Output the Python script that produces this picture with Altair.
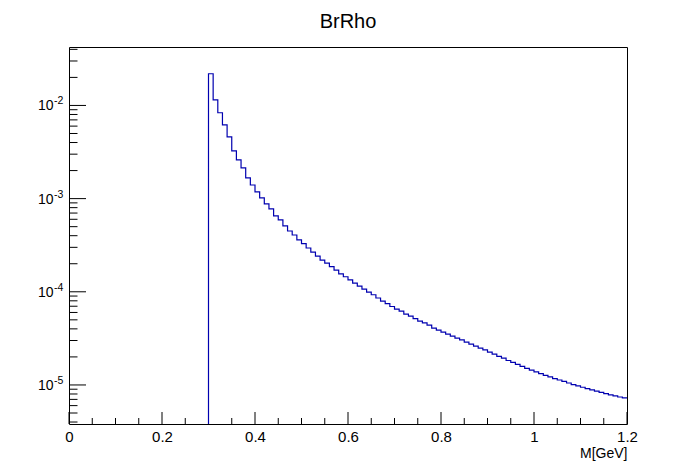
import altair as alt
import pandas as pd

# ---- data ----
bin_low = [0.30, 0.31, 0.32, 0.33, 0.34, 0.35, 0.36, 0.37, 0.38, 0.39,
           0.40, 0.41, 0.42, 0.43, 0.44, 0.45, 0.46, 0.47, 0.48, 0.49,
           0.50, 0.51, 0.52, 0.53, 0.54, 0.55, 0.56, 0.57, 0.58, 0.59,
           0.60, 0.61, 0.62, 0.63, 0.64, 0.65, 0.66, 0.67, 0.68, 0.69,
           0.70, 0.71, 0.72, 0.73, 0.74, 0.75, 0.76, 0.77, 0.78, 0.79,
           0.80, 0.81, 0.82, 0.83, 0.84, 0.85, 0.86, 0.87, 0.88, 0.89,
           0.90, 0.91, 0.92, 0.93, 0.94, 0.95, 0.96, 0.97, 0.98, 0.99,
           1.00, 1.01, 1.02, 1.03, 1.04, 1.05, 1.06, 1.07, 1.08, 1.09,
           1.10, 1.11, 1.12, 1.13, 1.14, 1.15, 1.16, 1.17, 1.18, 1.19]
counts = [2.19e-2, 1.15e-2, 8.35e-3, 6.20e-3, 4.61e-3, 3.26e-3, 2.61e-3, 2.14e-3, 1.67e-3, 1.40e-3,
          1.18e-3, 1.02e-3, 8.77e-4, 7.75e-4, 6.52e-4, 5.90e-4, 5.09e-4, 4.49e-4, 4.07e-4, 3.60e-4,
          3.28e-4, 2.95e-4, 2.67e-4, 2.42e-4, 2.19e-4, 2.03e-4, 1.86e-4, 1.71e-4, 1.56e-4, 1.45e-4,
          1.34e-4, 1.24e-4, 1.15e-4, 1.07e-4, 9.93e-5, 9.29e-5, 8.58e-5, 7.94e-5, 7.48e-5, 6.95e-5,
          6.52e-5, 6.20e-5, 5.76e-5, 5.48e-5, 5.16e-5, 4.84e-5, 4.64e-5, 4.38e-5, 4.07e-5, 3.88e-5,
          3.69e-5, 3.51e-5, 3.34e-5, 3.18e-5, 3.05e-5, 2.88e-5, 2.74e-5, 2.61e-5, 2.48e-5, 2.38e-5,
          2.25e-5, 2.14e-5, 2.03e-5, 1.94e-5, 1.83e-5, 1.75e-5, 1.66e-5, 1.58e-5, 1.51e-5, 1.44e-5,
          1.38e-5, 1.32e-5, 1.27e-5, 1.22e-5, 1.17e-5, 1.13e-5, 1.09e-5, 1.05e-5, 1.01e-5, 9.78e-6,
          9.45e-6, 9.15e-6, 8.86e-6, 8.58e-6, 8.33e-6, 8.08e-6, 7.84e-6, 7.63e-6, 7.43e-6, 7.25e-6]
x_upper = 1.2

x_major = [0.0, 0.2, 0.4, 0.6, 0.8, 1.0, 1.2]
x_minor = [0.05, 0.1, 0.15, 0.25, 0.3, 0.35, 0.45, 0.5, 0.55, 0.65, 0.7, 0.75,
           0.85, 0.9, 0.95, 1.05, 1.1, 1.15]
y_major = [1e-5, 1e-4, 1e-3, 1e-2]
y_exp = ["-5", "-4", "-3", "-2"]
y_minor = [4e-6, 5e-6, 6e-6, 7e-6, 8e-6, 9e-6,
           2e-5, 3e-5, 4e-5, 5e-5, 6e-5, 7e-5, 8e-5, 9e-5,
           2e-4, 3e-4, 4e-4, 5e-4, 6e-4, 7e-4, 8e-4, 9e-4,
           2e-3, 3e-3, 4e-3, 5e-3, 6e-3, 7e-3, 8e-3, 9e-3,
           2e-2, 3e-2, 4e-2]

Y_MIN, Y_MAX = 3.81e-6, 4.24e-2
W, H = 558, 377
FONT = "Liberation Sans"

# step line: start at the bottom of the frame at the first edge
xs = [bin_low[0]] + bin_low + [x_upper]
ys = [Y_MIN] + counts + [counts[-1]]
hist = pd.DataFrame({"x": xs, "y": ys, "i": list(range(len(xs)))})

xscale = alt.Scale(domain=[0, 1.2], nice=False, zero=False)
yscale = alt.Scale(type="log", domain=[Y_MIN, Y_MAX], nice=False)

xaxis = alt.Axis(values=x_major, ticks=False, domain=False, grid=False,
                 labelFontSize=15, labelPadding=5, labelColor="black",
                 labelFont=FONT, labelFlush=False,
                 labelExpr="datum.value == 1 ? '1' : format(datum.value, '.1~f')",
                 title="M[GeV]", titleFont=FONT, titleFontSize=14,
                 titleFontWeight="normal", titleColor="black",
                 titleAnchor="end", titleAlign="right",
                 titleX=W, titleY=33, titleBaseline="alphabetic")

line = alt.Chart(hist).mark_line(
    interpolate="step-after", color="#0000b0", strokeWidth=1.2, clip=True
).encode(
    x=alt.X("x:Q", scale=xscale, axis=xaxis),
    y=alt.Y("y:Q", scale=yscale, axis=None),
    order=alt.Order("i:Q"),
)

xmaj = alt.Chart(pd.DataFrame({"v": x_major})).mark_rule(color="black").encode(
    x=alt.X("v:Q", scale=xscale, axis=xaxis), y=alt.value(H), y2=alt.value(H - 12))
xmin = alt.Chart(pd.DataFrame({"v": x_minor})).mark_rule(color="black").encode(
    x=alt.X("v:Q", scale=xscale, axis=xaxis), y=alt.value(H), y2=alt.value(H - 6))
ymaj = alt.Chart(pd.DataFrame({"v": y_major})).mark_rule(color="black").encode(
    y=alt.Y("v:Q", scale=yscale, axis=None), x=alt.value(0), x2=alt.value(17))
ymin = alt.Chart(pd.DataFrame({"v": y_minor})).mark_rule(color="black").encode(
    y=alt.Y("v:Q", scale=yscale, axis=None), x=alt.value(0), x2=alt.value(8.5))

lab = pd.DataFrame({"v": y_major, "e": y_exp, "b": ["10"] * len(y_major)})
ybase = alt.Chart(lab).mark_text(
    align="right", baseline="middle", font=FONT, fontSize=14, color="black", dy=1
).encode(y=alt.Y("v:Q", scale=yscale, axis=None), x=alt.value(-15.5), text="b:N")
yexp = alt.Chart(lab).mark_text(
    align="left", baseline="middle", font=FONT, fontSize=10.5, color="black", dy=-4
).encode(y=alt.Y("v:Q", scale=yscale, axis=None), x=alt.value(-15), text="e:N")

chart = alt.layer(ymin, ymaj, xmin, xmaj, line, ybase, yexp).properties(
    width=W, height=H,
    title=alt.TitleParams("BrRho", font=FONT, fontSize=20, fontWeight="normal",
                          color="black", anchor="middle", offset=15),
    autosize=alt.AutoSizeParams(type="none"),
    padding={"left": 61, "top": 39, "right": 20, "bottom": 38},
    background="white",
).configure_view(stroke="black", strokeWidth=1)

chart.save("out.html", embed_options={"renderer": "svg", "actions": False})
